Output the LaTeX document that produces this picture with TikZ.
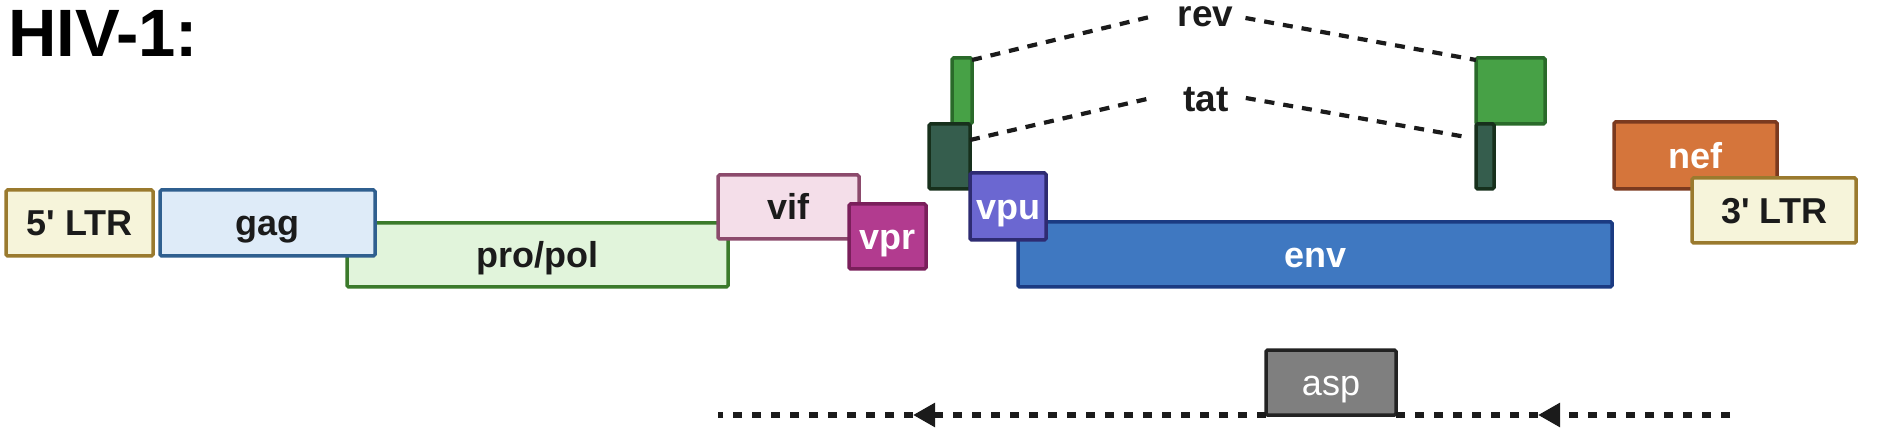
\documentclass[tikz,border=0pt]{standalone}
\usepackage{fontspec}
\setmainfont{Liberation Sans}
\usetikzlibrary{arrows.meta}
\definecolor{txtdark}{HTML}{1B1B1B}
\definecolor{ltrfill}{HTML}{F6F4DA}
\definecolor{ltrdraw}{HTML}{9A7A2E}
\definecolor{gagfill}{HTML}{DEEBF8}
\definecolor{gagdraw}{HTML}{2F5F8F}
\definecolor{polfill}{HTML}{E1F4DB}
\definecolor{poldraw}{HTML}{3B7A2B}
\definecolor{viffill}{HTML}{F4DEE9}
\definecolor{vifdraw}{HTML}{8C4A6C}
\definecolor{vprfill}{HTML}{B23B8F}
\definecolor{vprdraw}{HTML}{7A1F5B}
\definecolor{tatfill}{HTML}{355D4D}
\definecolor{tatdraw}{HTML}{17301C}
\definecolor{revfill}{HTML}{47A146}
\definecolor{revdraw}{HTML}{2A6A2A}
\definecolor{vpufill}{HTML}{6B67D1}
\definecolor{vpudraw}{HTML}{2E2B72}
\definecolor{envfill}{HTML}{3F78C1}
\definecolor{envdraw}{HTML}{1B3B82}
\definecolor{neffill}{HTML}{D5753B}
\definecolor{nefdraw}{HTML}{7B3A1F}
\definecolor{aspfill}{HTML}{7F7F7F}
\definecolor{aspdraw}{HTML}{222222}
\begin{document}
\begin{tikzpicture}[x=1pt,y=-1pt,
  gene/.style={draw, line width=3.5pt, rounded corners=1.5pt, inner sep=0pt, outer sep=0pt,
    font=\bfseries\fontsize{36}{36}\selectfont, text=txtdark, text height=25.8pt, text depth=0pt},
  lightlbl/.style={text=white},
  conn/.style={line width=4.2pt, dash pattern=on 10pt off 9pt, color=txtdark},
  dots/.style={line width=5.5pt, dash pattern=on 9pt off 10pt, color=txtdark},
  spl/.style={font=\bfseries\fontsize{37}{37}\selectfont, text=txtdark, inner xsep=12pt, inner ysep=0pt, anchor=base}]
\useasboundingbox[fill=white] (0,0) rectangle (1902,435);

\node[anchor=base west, font=\bfseries\fontsize{67}{67}\selectfont, text=black, inner sep=0pt] (title) at (8,57) {HIV-1:};

\node[gene, fill=ltrfill, draw=ltrdraw, minimum width=147pt, minimum height=66pt] (ltr5) at (79.5,223) {5\textquotesingle{} LTR};
\node[gene, fill=polfill, draw=poldraw, minimum width=381pt, minimum height=64pt] (pol) at (537.5,255) {pro/pol};
\node[gene, fill=gagfill, draw=gagdraw, minimum width=215pt, minimum height=66pt] (gag) at (267.5,223) {gag};
\node[gene, fill=viffill, draw=vifdraw, minimum width=141pt, minimum height=64pt] (vif) at (788.5,207) {vif};
\node[gene, lightlbl, fill=vprfill, draw=vprdraw, minimum width=77pt, minimum height=65pt] (vpr) at (887.5,236.5) {vpr};

\node[gene, fill=revfill, draw=revdraw, minimum width=20pt, minimum height=66pt] (revL) at (962,91) {};
\node[gene, fill=tatfill, draw=tatdraw, minimum width=41pt, minimum height=65pt] (tatL) at (949.5,156.5) {};
\node[gene, lightlbl, fill=envfill, draw=envdraw, minimum width=594pt, minimum height=65pt] (env) at (1315,254.5) {env};
\node[gene, lightlbl, fill=vpufill, draw=vpudraw, minimum width=76pt, minimum height=67pt] (vpu) at (1008,206.5) {vpu};

\node[gene, fill=revfill, draw=revdraw, minimum width=69pt, minimum height=66pt] (revR) at (1510.5,91) {};
\node[gene, fill=tatfill, draw=tatdraw, minimum width=18pt, minimum height=65pt] (tatR) at (1485,156.5) {};

\node[gene, lightlbl, fill=neffill, draw=nefdraw, minimum width=163pt, minimum height=67pt] (nef) at (1695.5,155.5) {nef};
\node[gene, fill=ltrfill, draw=ltrdraw, minimum width=164pt, minimum height=65pt] (ltr3) at (1774,210.5) {3\textquotesingle{} LTR};

\node[spl] (rev) at (1205.5,27) {rev};
\node[spl] (tat) at (1206,112) {tat};

\draw[conn] ([yshift=-2pt]revL.north east) -- ([xshift=-16pt,yshift=10pt]rev.base west);
\draw[conn] ([yshift=9pt]rev.base east) -- ([yshift=-2pt]revR.north west);
\draw[conn] ([yshift=-16pt]tatL.north east) -- ([xshift=-20pt,yshift=14pt]tat.base west);
\draw[conn] ([xshift=5pt,yshift=14pt]tat.base east) -- ([yshift=-13pt,xshift=-10pt]tatR.north west);

\node[gene, font=\fontsize{36}{36}\selectfont, text=white, fill=aspfill, draw=aspdraw, minimum width=130pt, minimum height=65pt] (asp) at (1331,382.5) {asp};

\coordinate (dl) at (718,415);
\coordinate (dr) at (1730,415);
\coordinate (a1) at (913,415);
\coordinate (a2) at (1538,415);
\draw[dots, -{Triangle[length=22pt,width=23pt]}] (dr) -- (a2);
\draw[dots] (a2) -- (asp.south east);
\draw[dots, -{Triangle[length=22pt,width=23pt]}] (asp.south west) -- (a1);
\draw[dots] (a1) -- (dl);
\end{tikzpicture}
\end{document}
